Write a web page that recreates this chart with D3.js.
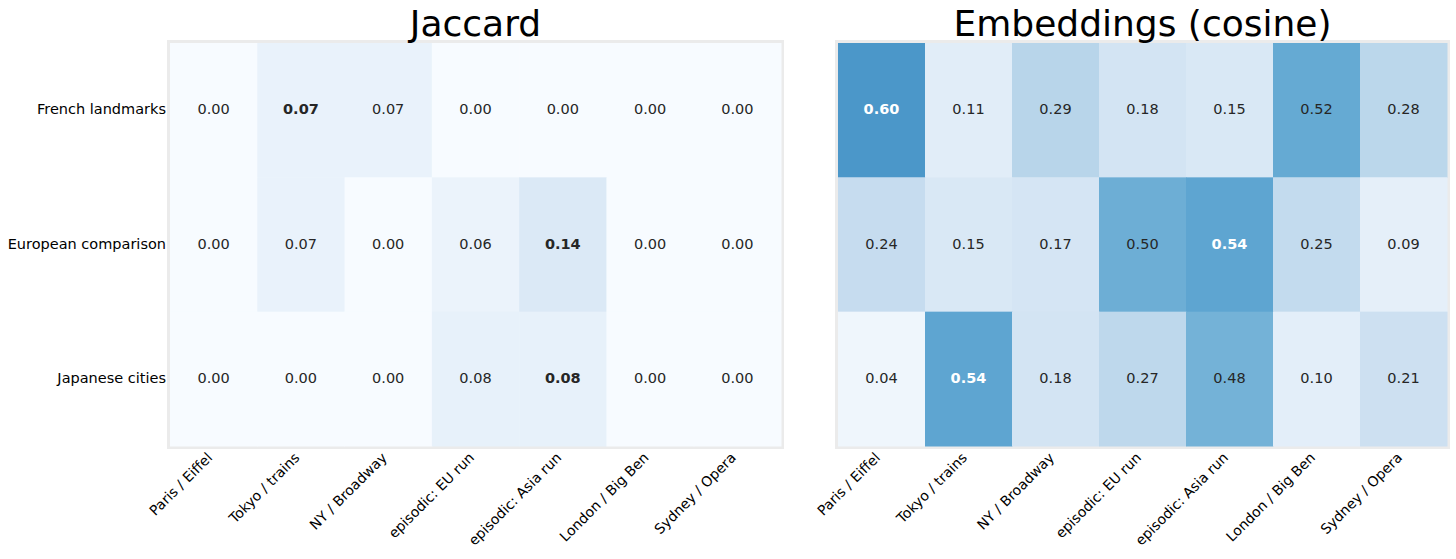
<!DOCTYPE html>
<html>
<head>
<meta charset="utf-8">
<script src="https://cdn.jsdelivr.net/npm/d3@7"></script>
<style>
  body { margin: 0; background: #fff; }
  svg { font-family: "DejaVu Sans", sans-serif; }
</style>
</head>
<body>
<div id="chart"></div>
<script>
// Data
const queries = ['French landmarks', 'European comparison', 'Japanese cities'];
const memories = ['Paris / Eiffel', 'Tokyo / trains', 'NY / Broadway', 'episodic: EU run',
                  'episodic: Asia run', 'London / Big Ben', 'Sydney / Opera'];
const jaccardValues = [
    [0.00, 0.07, 0.07, 0.00, 0.00, 0.00, 0.00],
    [0.00, 0.07, 0.00, 0.06, 0.14, 0.00, 0.00],
    [0.00, 0.00, 0.00, 0.08, 0.08, 0.00, 0.00]
];
// bold cell per row (row max)
const jaccardBest = [1, 4, 4];
const cosineValues = [
    [0.60, 0.11, 0.29, 0.18, 0.15, 0.52, 0.28],
    [0.24, 0.15, 0.17, 0.50, 0.54, 0.25, 0.09],
    [0.04, 0.54, 0.18, 0.27, 0.48, 0.10, 0.21]
];
const cosineBest = [0, 4, 1];
const panelTitles = ['Jaccard', 'Embeddings (cosine)'];

const W = 1456, H = 559;
const gridTop = 43, gridBottom = 446;

const svg = d3.select('#chart').append('svg')
    .attr('width', W)
    .attr('height', H);

const color = d3.scaleSequential(d3.interpolateBlues).domain([0, 1]);

function drawPanel(left, right, values, best, title, showY) {
    const x = d3.scaleBand().domain(memories).range([left, right]);
    const y = d3.scaleBand().domain(queries).range([gridTop, gridBottom]);
    const g = svg.append('g');

    // light frame around the grid
    g.append('rect')
        .attr('x', left - 1.5)
        .attr('y', gridTop - 1.5)
        .attr('width', right - left + 3)
        .attr('height', gridBottom - gridTop + 3)
        .attr('fill', 'none')
        .attr('stroke', '#ebebeb')
        .attr('stroke-width', 3);

    const cells = [];
    values.forEach((row, i) => row.forEach((v, j) => {
        cells.push({ q: queries[i], m: memories[j], v, bold: best[i] === j });
    }));

    g.selectAll('rect.cell')
        .data(cells)
        .enter()
        .append('rect')
        .attr('class', 'cell')
        .attr('x', d => x(d.m))
        .attr('y', d => y(d.q))
        .attr('width', x.bandwidth() + 0.5)
        .attr('height', y.bandwidth() + 0.5)
        .attr('fill', d => color(d.v));

    g.selectAll('text.val')
        .data(cells)
        .enter()
        .append('text')
        .attr('class', 'val')
        .attr('x', d => x(d.m) + x.bandwidth() / 2)
        .attr('y', d => y(d.q) + y.bandwidth() / 2 - 1)
        .attr('text-anchor', 'middle')
        .attr('dominant-baseline', 'central')
        .style('font-size', '14.5px')
        .style('font-weight', d => d.bold ? '700' : '400')
        .style('fill', d => (d.bold && d.v > 0.5) ? '#fff' : '#262626')
        .text(d => d.v.toFixed(2));

    // Title
    svg.append('text')
        .attr('x', (left + right) / 2)
        .attr('y', 36)
        .attr('text-anchor', 'middle')
        .style('font-size', '36px')
        .style('fill', '#000')
        .text(title);

    // x tick labels, rotated
    g.selectAll('text.xl')
        .data(memories)
        .enter()
        .append('text')
        .attr('class', 'xl')
        .attr('transform', d => `translate(${x(d) + x.bandwidth() / 2 - 4}, ${gridBottom + 9}) rotate(-45)`)
        .attr('text-anchor', 'end')
        .attr('dominant-baseline', 'central')
        .style('font-size', '14px')
        .style('fill', '#000')
        .text(d => d);

    if (showY) {
        g.selectAll('text.yl')
            .data(queries)
            .enter()
            .append('text')
            .attr('class', 'yl')
            .attr('x', left - 4)
            .attr('y', d => y(d) + y.bandwidth() / 2 - 1)
            .attr('text-anchor', 'end')
            .attr('dominant-baseline', 'central')
            .style('font-size', '14.5px')
            .style('fill', '#000')
            .text(d => d);
    }
}

drawPanel(170, 781, jaccardValues, jaccardBest, panelTitles[0], true);
drawPanel(838, 1447, cosineValues, cosineBest, panelTitles[1], false);
</script>
</body>
</html>
